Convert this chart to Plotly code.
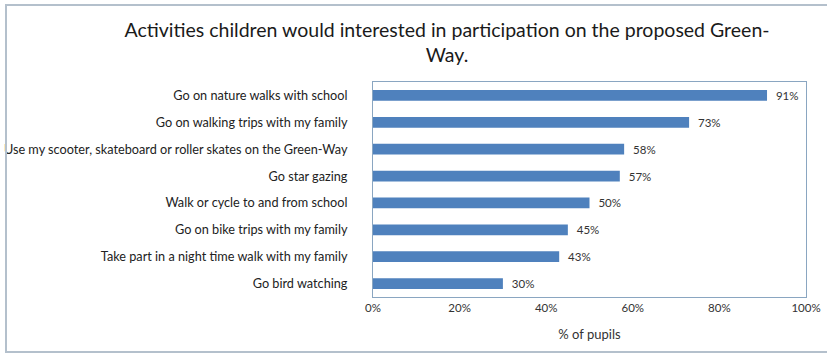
import plotly.graph_objects as go

categories = [
    "Go on nature walks with school",
    "Go on walking trips with my family",
    "Use my scooter, skateboard or roller skates on the Green-Way",
    "Go star gazing",
    "Walk or cycle to and from school",
    "Go on bike trips with my family",
    "Take part in a night time walk with my family",
    "Go bird watching",
]
values = [91, 73, 58, 57, 50, 45, 43, 30]
tick_vals = [0, 20, 40, 60, 80, 100]
tick_text = ["0%", "20%", "40%", "60%", "80%", "100%"]

W, H = 827, 354
L, R, T, B = 373, 21, 82, 57
pw, ph = W - L - R, H - T - B

FONT = "Lato"

fig = go.Figure(go.Bar(
    x=values, y=categories, orientation="h",
    marker=dict(color="#4f81bd", line=dict(width=0)),
    text=[f"\u00a0\u00a0{v}%" for v in values], textposition="outside",
    textfont=dict(size=11.5, color="#333333", family=FONT),
    constraintext="none",
    cliponaxis=False,
))

fig.update_layout(
    width=W, height=H,
    margin=dict(l=L, r=R, t=T, b=B),
    paper_bgcolor="white", plot_bgcolor="white",
    bargap=0.6,
    showlegend=False,
    font=dict(family=FONT, color="#222222"),
    title=dict(
        text="Activities children would interested in participation on the proposed Green-<br>Way.",
        x=447 / W, xanchor="center", y=1 - 37 / H, yanchor="top",
        font=dict(size=19.5, color="#1a1a1a", family=FONT),
    ),
    xaxis=dict(
        range=[0, 100], tickvals=tick_vals, ticktext=tick_text,
        showgrid=False, zeroline=False, ticks="",
        showline=True, linecolor="#8aa6c1", linewidth=1, mirror=True,
        tickfont=dict(size=11.5, color="#333333"),
        title=dict(text="% of pupils", font=dict(size=13, color="#333333"), standoff=17),
    ),
    yaxis=dict(
        autorange="reversed", showgrid=False, zeroline=False, ticks="",
        showline=True, linecolor="#8aa6c1", linewidth=1, mirror=True,
        tickfont=dict(size=12.7, color="#222222"),
        ticklabelstandoff=22, automargin=False,
    ),
    shapes=[dict(
        type="rect", xref="paper", yref="paper",
        x0=(6 - L) / pw, x1=(830 - L) / pw,
        y0=-(352 - T - ph) / ph, y1=1 + (T - 5) / ph,
        line=dict(color="#b4c0cc", width=2), fillcolor="rgba(0,0,0,0)",
    )],
)
fig.update_xaxes(automargin=False)

fig.write_html("out.html", config={"displayModeBar": False},
               post_script="document.body.style.margin='0';document.body.style.overflow='hidden';")
